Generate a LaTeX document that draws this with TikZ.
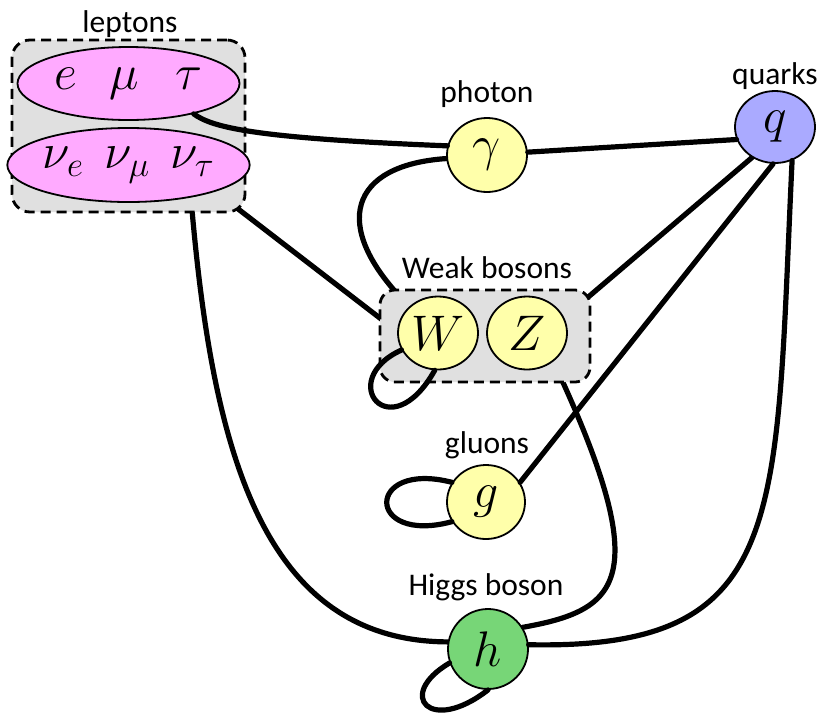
\documentclass[tikz,border=0pt]{standalone}
\usepackage{fix-cm}
\usepackage{fontspec}
\newfontfamily\labfont{Carlito}
\usetikzlibrary{shapes.geometric}
\pgfdeclarelayer{background}
\pgfsetlayers{background,main}
\definecolor{pinkfill}{RGB}{255,170,255}
\definecolor{yellowfill}{RGB}{255,255,170}
\definecolor{bluefill}{RGB}{170,170,255}
\definecolor{greenfill}{RGB}{119,214,119}
\definecolor{boxfill}{RGB}{224,224,224}
\newcommand\bigmathsize{\fontsize{50}{55}\selectfont}
\tikzset{
  edge/.style={line width=5.2pt, line cap=round},
  particle/.style={ellipse, draw, line width=1.8pt, inner sep=0pt, font=\bigmathsize},
  groupbox/.style={draw, fill=boxfill, line width=2.8pt, dash pattern=on 10pt off 6pt, rounded corners=18pt, inner sep=0pt},
  lab/.style={font=\labfont\fontsize{31.5}{36}\selectfont, anchor=base, inner sep=0pt}
}
\begin{document}
\begin{tikzpicture}[x=1pt,y=-1pt]
\useasboundingbox (0,0) rectangle (822,713);
% groups
\node[groupbox, minimum width=233pt, minimum height=172pt] (lep) at (128.5,126) {};
\node[groupbox, rounded corners=15pt, minimum width=210pt, minimum height=92pt] (weak) at (485,336) {};
% labels
\node[lab] (leplab) at (130,32) {leptons};
\node[lab] (phlab) at (487,102) {photon};
\node[lab] (qlab) at (775,84) {quarks};
\node[lab] (wlab) at (487,278) {Weak bosons};
\node[lab] (glab) at (487,453) {gluons};
\node[lab] (hlab) at (486,595) {Higgs boson};
% particles
\node[particle, fill=pinkfill, minimum width=222pt, minimum height=73pt] (ltop) at (128.5,83.5) {$e\hspace{32pt}\mu\hspace{37pt}\tau$};
\node[particle, fill=pinkfill, minimum width=222pt, minimum height=74pt] (lbot) at (128.5,165) {$\nu_e\hspace{21pt}\nu_\mu\hspace{21pt}\nu_\tau$};
\node[particle, fill=yellowfill, minimum width=80pt, minimum height=74pt] (photon) at (487,155) {$\gamma$};
\node[particle, fill=bluefill, minimum width=80pt, minimum height=72pt] (quarks) at (775,127) {$q$};
\node[particle, fill=yellowfill, minimum width=80pt, minimum height=73pt] (W) at (438,333) {$W$};
\node[particle, fill=yellowfill, minimum width=80pt, minimum height=73pt] (Z) at (527,333) {$Z$};
\node[particle, fill=yellowfill, minimum width=78pt, minimum height=74pt] (g) at (486,502) {$g$};
\node[particle, fill=greenfill, minimum width=80pt, minimum height=80pt] (h) at (488,649) {$h$};
% hidden ends of connectors inside the group boxes
\coordinate (lepA) at (220,195);
\coordinate (lepB) at (191,198);
\coordinate (weakL) at (398,332);
\coordinate (weakT) at (405,302);
\coordinate (weakR) at (573,310);
\coordinate (weakB) at (555,365);
\begin{pgfonlayer}{background}
  \draw[edge] (photon.185) .. controls (350,165) and (330,225) .. (weakT);
  \draw[edge] (lepA) -- (weakL);
  \draw[edge] (quarks.233) -- (weakR);
  \draw[edge] (lepB) .. controls (212,450) and (262,641) .. (h.170);
  \draw[edge] (weakB) .. controls (655,580) and (620,610) .. (h.32);
\end{pgfonlayer}
% connectors
\draw[edge] (ltop.-25) .. controls (212,127) and (250,138) .. (photon.167);
\draw[edge] (photon.4) -- (quarks.198);
\draw[edge] (quarks.267) -- (g.30);
\draw[edge] (quarks.297) .. controls (775,520) and (790,650) .. (h.6);
% self loops
\draw[edge] (W.205) .. controls (335,380) and (390,450) .. (W.-95);
\draw[edge] (g.150) .. controls (365,460) and (365,545) .. (g.210);
\draw[edge] (h.200) .. controls (395,695) and (430,735) .. (h.-90);
\end{tikzpicture}
\end{document}
